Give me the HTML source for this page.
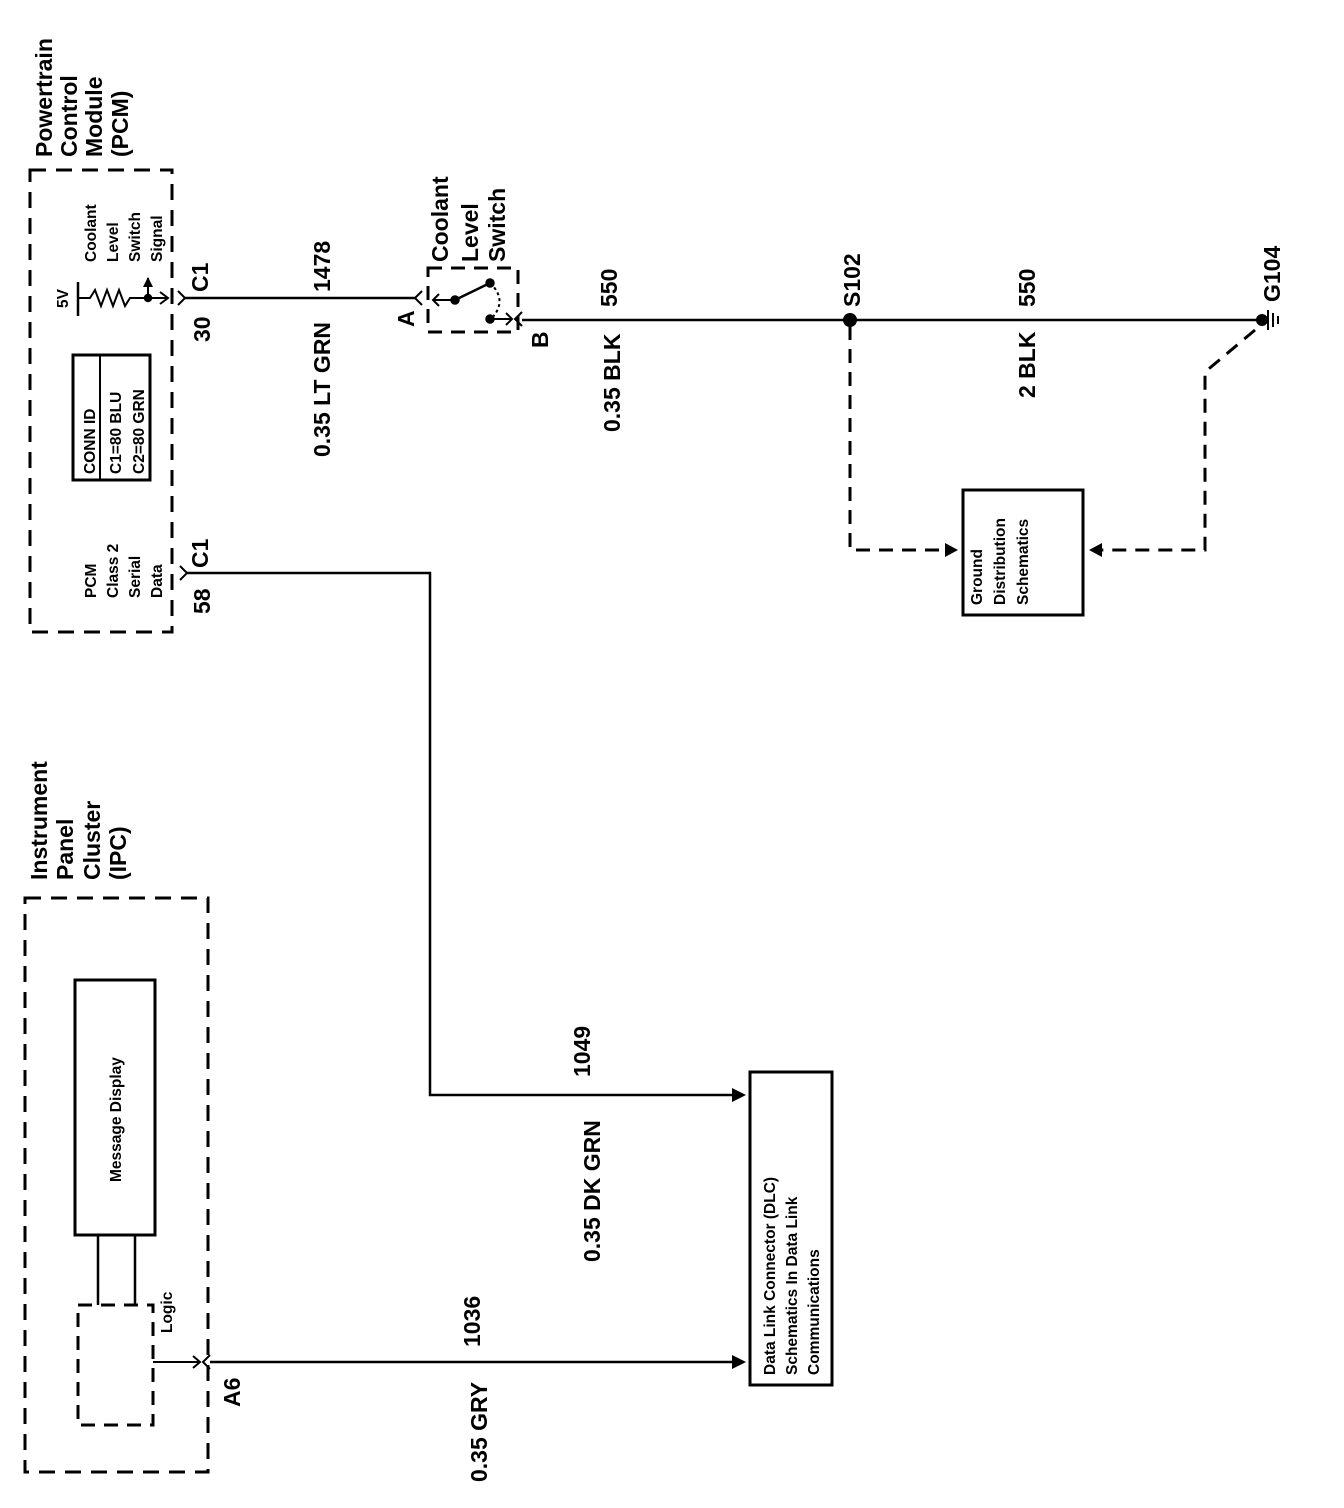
<!DOCTYPE html>
<html><head><meta charset="utf-8"><style>
html,body{margin:0;padding:0;background:#fff}
svg{display:block}
text{font-family:"Liberation Sans",Arial,sans-serif;fill:#000}
.b{font-size:23px;font-weight:bold}
.s{font-size:15.5px;font-weight:bold}
</style></head><body>
<svg width="1344" height="1508" viewBox="0 0 1344 1508" xmlns="http://www.w3.org/2000/svg">
<defs>
<marker id="ar" markerWidth="10" markerHeight="10" refX="9" refY="5" orient="auto" markerUnits="userSpaceOnUse"><path d="M0,0 L10,5 L0,10 Z" fill="#000"/></marker>
</defs>
<g stroke="#000" fill="none" stroke-width="2.5">
<rect x="30" y="170" width="142" height="462" stroke-dasharray="16,10" stroke-width="3"/>
<rect x="25" y="898" width="183" height="574" stroke-dasharray="16,10" stroke-width="3"/>
<rect x="73" y="355" width="77" height="125" stroke-width="3"/>
<line x1="100" y1="355" x2="100" y2="480" stroke-width="2"/>
<line x1="78" y1="282" x2="78" y2="316"/>
<polyline points="78,298 90,298 95,290 101,306 107,290 113,306 119,290 125,306 130,298 168,298" stroke-width="2"/>
<line x1="148" y1="298" x2="148" y2="278" stroke-width="2" marker-end="url(#ar)"/>
<polyline points="160,292 168,298 160,304" stroke-width="2"/>
<circle cx="148" cy="298" r="3" fill="#000"/>
<polyline points="178,291 185,298 178,305" stroke-width="2"/>
<line x1="185" y1="298" x2="415" y2="298"/>
<polyline points="422,291 415,298 422,305" stroke-width="2"/>
<rect x="428" y="268" width="90" height="64" stroke-dasharray="14,9" stroke-width="3"/>
<line x1="455" y1="300" x2="433" y2="300" stroke-width="2"/>
<polyline points="439,294 433,300 439,306" stroke-width="2"/>
<circle cx="455" cy="300" r="3.5" fill="#000"/>
<line x1="455" y1="300" x2="490" y2="283" stroke-width="2.5"/>
<circle cx="490" cy="283" r="3.5" fill="#000"/>
<path d="M490,283 Q508,300 492,318" stroke-width="2" stroke-dasharray="3,3"/>
<circle cx="490" cy="319" r="3.5" fill="#000"/>
<line x1="490" y1="319" x2="512" y2="319" stroke-width="2"/>
<polyline points="506,313 512,319 506,325" stroke-width="2"/>
<polyline points="522,312 515,319 522,326" stroke-width="2"/>
<line x1="522" y1="320" x2="1262" y2="320"/>
<circle cx="850" cy="320" r="7" fill="#000" stroke="none"/>
<circle cx="1262" cy="320" r="6" fill="#000" stroke="none"/>
<line x1="1268" y1="310" x2="1268" y2="330" stroke-width="2"/>
<line x1="1273" y1="313" x2="1273" y2="327" stroke-width="2"/>
<line x1="1278" y1="316" x2="1278" y2="324" stroke-width="2"/>
<polyline points="850,326 850,550 945,550" stroke-dasharray="14,9" stroke-width="3"/>
<path d="M945,543 L958,550 L945,557 Z" fill="#000" stroke="none"/>
<polyline points="1255,330 1205,372 1205,550 1100,550" stroke-dasharray="14,9" stroke-width="3"/>
<path d="M1102,543 L1089,550 L1102,557 Z" fill="#000" stroke="none"/>
<rect x="963" y="490" width="120" height="125" stroke-width="3"/>
<polyline points="180,566 187,573 180,580" stroke-width="2"/>
<polyline points="187,573 430,573 430,1095 735,1095"/>
<path d="M732,1088 L746,1095 L732,1102 Z" fill="#000" stroke="none"/>
<rect x="750" y="1072" width="82" height="313" stroke-width="3"/>
<rect x="75" y="980" width="80" height="255" stroke-width="3"/>
<line x1="98" y1="1235" x2="98" y2="1305"/>
<line x1="135" y1="1235" x2="135" y2="1305"/>
<rect x="78" y="1305" width="75" height="120" stroke-dasharray="14,9" stroke-width="3"/>
<line x1="153" y1="1362" x2="200" y2="1362" stroke-width="2"/>
<polyline points="193,1356 200,1362 193,1368" stroke-width="2"/>
<polyline points="210,1355 203,1362 210,1369" stroke-width="2"/>
<line x1="210" y1="1362" x2="735" y2="1362"/>
<path d="M732,1355 L746,1362 L732,1369 Z" fill="#000" stroke="none"/>
</g>
<g class="b">
<text transform="translate(52,157) rotate(-90)">Powertrain</text>
<text transform="translate(77,157) rotate(-90)">Control</text>
<text transform="translate(102,157) rotate(-90)">Module</text>
<text transform="translate(128,157) rotate(-90)">(PCM)</text>
<text transform="translate(208,292) rotate(-90)">C1</text>
<text transform="translate(210,342) rotate(-90)">30</text>
<text transform="translate(208,568) rotate(-90)">C1</text>
<text transform="translate(210,614) rotate(-90)">58</text>
<text transform="translate(330,292) rotate(-90)">1478</text>
<text transform="translate(330,457) rotate(-90)">0.35 LT GRN</text>
<text transform="translate(414,327) rotate(-90)">A</text>
<text transform="translate(448,262) rotate(-90)">Coolant</text>
<text transform="translate(478,262) rotate(-90)">Level</text>
<text transform="translate(505,262) rotate(-90)">Switch</text>
<text transform="translate(548,348) rotate(-90)">B</text>
<text transform="translate(617,307) rotate(-90)">550</text>
<text transform="translate(620,432) rotate(-90)">0.35 BLK</text>
<text transform="translate(860,307) rotate(-90)">S102</text>
<text transform="translate(1035,307) rotate(-90)">550</text>
<text transform="translate(1035,398) rotate(-90)">2 BLK</text>
<text transform="translate(1280,302) rotate(-90)">G104</text>
<text transform="translate(590,1077) rotate(-90)">1049</text>
<text transform="translate(600,1262) rotate(-90)">0.35 DK GRN</text>
<text transform="translate(47,880) rotate(-90)">Instrument</text>
<text transform="translate(73,880) rotate(-90)">Panel</text>
<text transform="translate(100,880) rotate(-90)">Cluster</text>
<text transform="translate(126,880) rotate(-90)">(IPC)</text>
<text transform="translate(240,1407) rotate(-90)">A6</text>
<text transform="translate(480,1347) rotate(-90)">1036</text>
<text transform="translate(487,1482) rotate(-90)">0.35 GRY</text>
</g>
<g class="s">
<text transform="translate(68,308) rotate(-90)">5V</text>
<text transform="translate(96,262) rotate(-90)">Coolant</text>
<text transform="translate(118,262) rotate(-90)">Level</text>
<text transform="translate(140,262) rotate(-90)">Switch</text>
<text transform="translate(162,262) rotate(-90)">Signal</text>
<text transform="translate(95,474) rotate(-90)">CONN ID</text>
<text transform="translate(121,474) rotate(-90)">C1=80 BLU</text>
<text transform="translate(144,474) rotate(-90)">C2=80 GRN</text>
<text transform="translate(96,598) rotate(-90)">PCM</text>
<text transform="translate(118,598) rotate(-90)">Class 2</text>
<text transform="translate(140,598) rotate(-90)">Serial</text>
<text transform="translate(162,598) rotate(-90)">Data</text>
<text transform="translate(982,605) rotate(-90)">Ground</text>
<text transform="translate(1005,605) rotate(-90)">Distribution</text>
<text transform="translate(1028,605) rotate(-90)">Schematics</text>
<text transform="translate(121,1182) rotate(-90)">Message Display</text>
<text transform="translate(172,1333) rotate(-90)">Logic</text>
<text transform="translate(775,1375) rotate(-90)">Data Link Connector (DLC)</text>
<text transform="translate(797,1375) rotate(-90)">Schematics In Data Link</text>
<text transform="translate(819,1375) rotate(-90)">Communications</text>
</g>
</svg>
</body></html>
